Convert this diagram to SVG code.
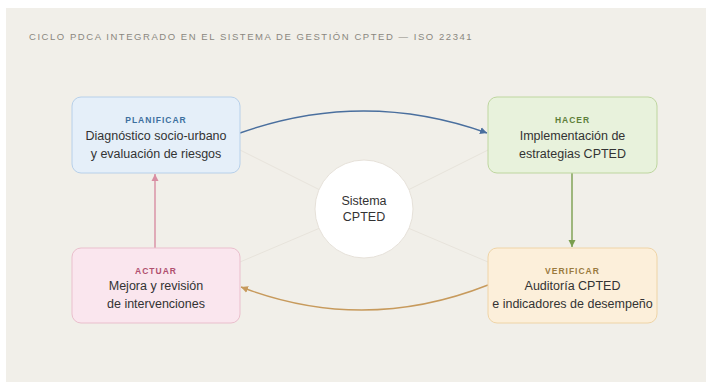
<svg xmlns="http://www.w3.org/2000/svg" width="706" height="382" viewBox="0 0 706 382">
<style>
.title{font-family:"Liberation Sans",Arial,sans-serif;font-size:9.5px;letter-spacing:1.55px;fill:#8a8780}
.lab{font-family:"Liberation Sans",Arial,sans-serif;font-size:8.5px;font-weight:bold;letter-spacing:1px;text-anchor:middle}
.body{font-family:"Liberation Sans",Arial,sans-serif;font-size:12.5px;fill:#333;text-anchor:middle}
.ctr{font-family:"Liberation Sans",Arial,sans-serif;font-size:12.5px;fill:#333;text-anchor:middle}
.spoke{stroke:#e7e3db;stroke-width:1;fill:none}
</style>
<defs>
<marker id="aB" markerWidth="8" markerHeight="8" refX="7" refY="4" orient="auto" markerUnits="userSpaceOnUse"><path d="M0,0.5 L7,4 L0,7.5 Z" fill="#4a6f9e"/></marker>
<marker id="aG" markerWidth="8" markerHeight="8" refX="7" refY="4" orient="auto" markerUnits="userSpaceOnUse"><path d="M0,0.5 L7,4 L0,7.5 Z" fill="#7a9e4e"/></marker>
<marker id="aO" markerWidth="8" markerHeight="8" refX="7" refY="4" orient="auto" markerUnits="userSpaceOnUse"><path d="M0,0.5 L7,4 L0,7.5 Z" fill="#c79a5c"/></marker>
<marker id="aP" markerWidth="8" markerHeight="8" refX="7" refY="4" orient="auto" markerUnits="userSpaceOnUse"><path d="M0,0.5 L7,4 L0,7.5 Z" fill="#d88ea3"/></marker>
</defs>
<rect x="0" y="0" width="706" height="382" fill="#ffffff"/>
<rect x="6" y="8" width="700" height="374" fill="#f1efe9"/>
<text class="title" x="29" y="40">CICLO PDCA INTEGRADO EN EL SISTEMA DE GESTIÓN CPTED — ISO 22341</text>
<g id="connectors">
<line class="spoke" x1="240" y1="150" x2="320" y2="190"/>
<line class="spoke" x1="488" y1="150" x2="408" y2="190"/>
<line class="spoke" x1="240" y1="262" x2="320" y2="228"/>
<line class="spoke" x1="488" y1="262" x2="408" y2="228"/>
<path d="M240,133 Q364,89 487,133" fill="none" stroke="#4a6f9e" stroke-width="1.4" marker-end="url(#aB)"/>
<line x1="572" y1="173" x2="572" y2="247" stroke="#7a9e4e" stroke-width="1.4" marker-end="url(#aG)"/>
<path d="M488,285 Q364,334 241,287" fill="none" stroke="#c79a5c" stroke-width="1.4" marker-end="url(#aO)"/>
<line x1="155" y1="248" x2="155" y2="174" stroke="#d88ea3" stroke-width="1.4" marker-end="url(#aP)"/>
</g>
<g id="planificar">
<rect x="72" y="97" width="168" height="76" rx="9" fill="#e5eff9" stroke="#b7d0ea" stroke-width="1"/>
<text class="lab" x="156" y="123" fill="#3d6f9f">PLANIFICAR</text>
<text class="body" x="156" y="140">Diagnóstico socio-urbano</text>
<text class="body" x="156" y="158">y evaluación de riesgos</text>
</g>
<g id="hacer">
<rect x="488" y="97" width="169" height="76" rx="9" fill="#e8f2dc" stroke="#bed69f" stroke-width="1"/>
<text class="lab" x="572.5" y="123" fill="#5e7f3a">HACER</text>
<text class="body" x="572.5" y="140">Implementación de</text>
<text class="body" x="572.5" y="158">estrategias CPTED</text>
</g>
<g id="actuar">
<rect x="72" y="248" width="168" height="75" rx="9" fill="#fae6ee" stroke="#eabfcd" stroke-width="1"/>
<text class="lab" x="156" y="274" fill="#b0506e">ACTUAR</text>
<text class="body" x="156" y="290">Mejora y revisión</text>
<text class="body" x="156" y="308">de intervenciones</text>
</g>
<g id="verificar">
<rect x="488" y="248" width="169" height="75" rx="9" fill="#fcefda" stroke="#efd4a6" stroke-width="1"/>
<text class="lab" x="572.5" y="274" fill="#9a7a3e">VERIFICAR</text>
<text class="body" x="572.5" y="290">Auditoría CPTED</text>
<text class="body" x="572.5" y="308">e indicadores de desempeño</text>
</g>
<g id="sistema">
<circle cx="364" cy="209" r="49" fill="#ffffff" stroke="#e6e1d9" stroke-width="1"/>
<text class="ctr" x="364" y="205">Sistema</text>
<text class="ctr" x="364" y="221">CPTED</text>
</g>
</svg>
